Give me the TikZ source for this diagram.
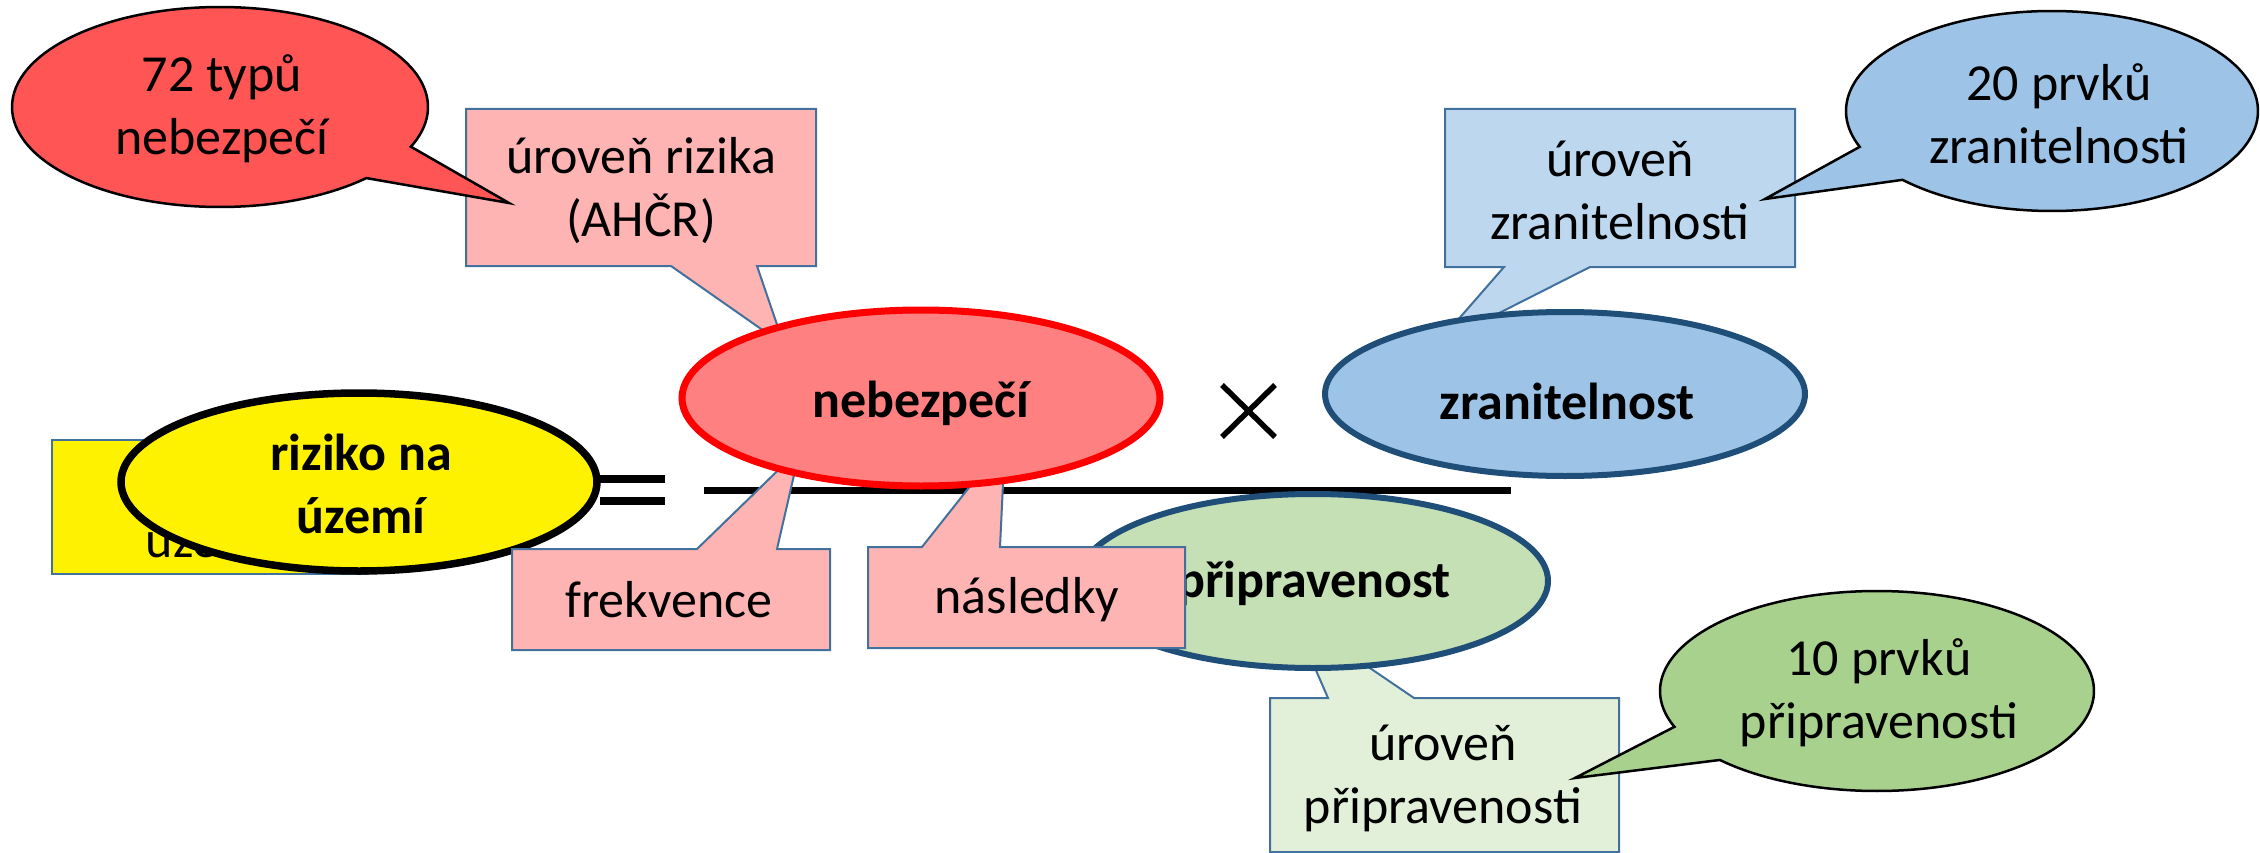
\documentclass[tikz,border=0pt]{standalone}
\usepackage{fontspec}
\setmainfont{Carlito}
\usetikzlibrary{shapes.geometric,calc}

\definecolor{boxblue}{HTML}{41719C}
\definecolor{darkblue}{HTML}{1F4E79}
\definecolor{bubred}{HTML}{FF5555}
\definecolor{pinkbox}{HTML}{FFB4B4}
\definecolor{hazfill}{HTML}{FF8080}
\definecolor{vulfill}{HTML}{9DC3E6}
\definecolor{vulbox}{HTML}{BDD7EE}
\definecolor{prepfill}{HTML}{C5E0B4}
\definecolor{prepbox}{HTML}{E2F0D9}
\definecolor{prepbub}{HTML}{A9D18E}

\begin{document}
\begin{tikzpicture}[x=1pt,y=-1pt,
  txt/.style={font=\fontsize{52}{63}\selectfont, align=center, inner sep=0pt},
  boldtxt/.style={txt, font=\fontsize{52}{63}\selectfont\bfseries},
  boxline/.style={draw=boxblue, line width=2pt, line join=miter},
  bubble/.style={draw=black, line width=2.5pt, line join=miter},
  oval/.style={ellipse, inner sep=0pt, outer sep=0pt},
  bar/.style={line width=#1, black}
]
\useasboundingbox (0,0) rectangle (2260,853);

% ---- risk of the territory (left-hand side) ----
\draw[boxline, fill=yellow] (52,440) rectangle (368,574);
\node[txt, anchor=base] (uzt) at (209,557) {území};
\node[oval, draw=black, line width=7.5pt, fill=yellow,
      minimum width=476pt, minimum height=178pt] (risk) at (359,482) {};
\node[boldtxt] (riskt) at (361,484) {riziko na\\území};

% ---- equals sign, fraction bar, times sign ----
\coordinate (eqA) at (600,479); \coordinate (eqB) at (665,479);
\coordinate (eqC) at (600,501); \coordinate (eqD) at (665,501);
\draw[bar=8pt] (eqA) -- (eqB);
\draw[bar=8pt] (eqC) -- (eqD);
\coordinate (fracL) at (704,490); \coordinate (fracR) at (1511,490);
\draw[bar=7pt] (fracL) -- (fracR);
\coordinate (tA) at (1222,385); \coordinate (tB) at (1275,437);
\coordinate (tC) at (1275,385); \coordinate (tD) at (1222,437);
\draw[bar=5.5pt] (tA) -- (tB);
\draw[bar=5.5pt] (tC) -- (tD);

% ---- preparedness (denominator) ----
\draw[boxline, fill=prepbox] (1270,698) -- (1328,698) -- (1292,615) -- (1414,698)
  -- (1619,698) -- (1619,852) -- (1270,852) -- cycle;
\node[txt] (prept) at (1443,778) {úroveň\\připravenosti};
\node[oval, draw=darkblue, line width=6pt, fill=prepfill,
      minimum width=470pt, minimum height=174pt] (prep) at (1313,581) {};
\node[boldtxt, anchor=base] (prepl) at (1314,597) {připravenost};

% ---- hazard callout boxes ----
\draw[boxline, fill=pinkbox] (466,109) -- (816,109) -- (816,266) -- (757,266)
  -- (784,345) -- (671,266) -- (466,266) -- cycle;
\node[txt] (levt) at (641,191) {úroveň rizika\\(AHČR)};
\draw[boxline, fill=pinkbox] (512,549) -- (697,549) -- (800,449) -- (777,549)
  -- (830,549) -- (830,650) -- (512,650) -- cycle;
\node[txt, anchor=base] (freq) at (669,617) {frekvence};
\draw[boxline, fill=pinkbox] (868,547) -- (922,547) -- (1005,442) -- (1000,547)
  -- (1185,547) -- (1185,648) -- (868,648) -- cycle;
\node[txt, anchor=base] (cons) at (1027,613) {následky};

% ---- hazard ----
\node[oval, draw=red, line width=7pt, fill=hazfill,
      minimum width=478pt, minimum height=176pt] (haz) at (921,398) {};
\node[boldtxt, anchor=base] (hazt) at (921,417) {nebezpečí};

% ---- 72 hazard types bubble ----
\coordinate (rb) at (220,107);
\coordinate (rbtip) at (509,203);
\draw[bubble, fill=bubred] ($(rb)+(23.4:208 and 100)$) -- (rbtip)
  -- ($(rb)+(45.3:208 and 100)$)
  arc[start angle=45.3, end angle=383.4, x radius=208, y radius=100] -- cycle;
\node[txt] (rbt) at (222,109) {72 typů\\nebezpečí};

% ---- vulnerability ----
\draw[boxline, fill=vulbox] (1445,109) -- (1795,109) -- (1795,267) -- (1590,267)
  -- (1436,345) -- (1504,267) -- (1445,267) -- cycle;
\node[txt] (vlevt) at (1620,190) {úroveň\\zranitelnosti};
\node[oval, draw=darkblue, line width=6pt, fill=vulfill,
      minimum width=480pt, minimum height=164pt] (vul) at (1565,394) {};
\node[boldtxt, anchor=base] (vult) at (1567,419) {zranitelnost};

\coordinate (bb) at (2052,111);
\coordinate (bbtip) at (1765,199);
\draw[bubble, fill=vulfill] ($(bb)+(159:206 and 100)$) -- (bbtip)
  -- ($(bb)+(136.5:206 and 100)$)
  arc[start angle=136.5, end angle=-201, x radius=206, y radius=100] -- cycle;
\node[txt] (bbt) at (2059,114) {20 prvků\\zranitelnosti};

% ---- 10 preparedness elements bubble ----
\coordinate (gb) at (1877,691);
\coordinate (gbtip) at (1575,778);
\draw[bubble, fill=prepbub] ($(gb)+(159:217 and 100)$) -- (gbtip)
  -- ($(gb)+(136.4:217 and 100)$)
  arc[start angle=136.4, end angle=-201, x radius=217, y radius=100] -- cycle;
\node[txt] (gbt) at (1879,693) {10 prvků\\připravenosti};
\end{tikzpicture}
\end{document}
